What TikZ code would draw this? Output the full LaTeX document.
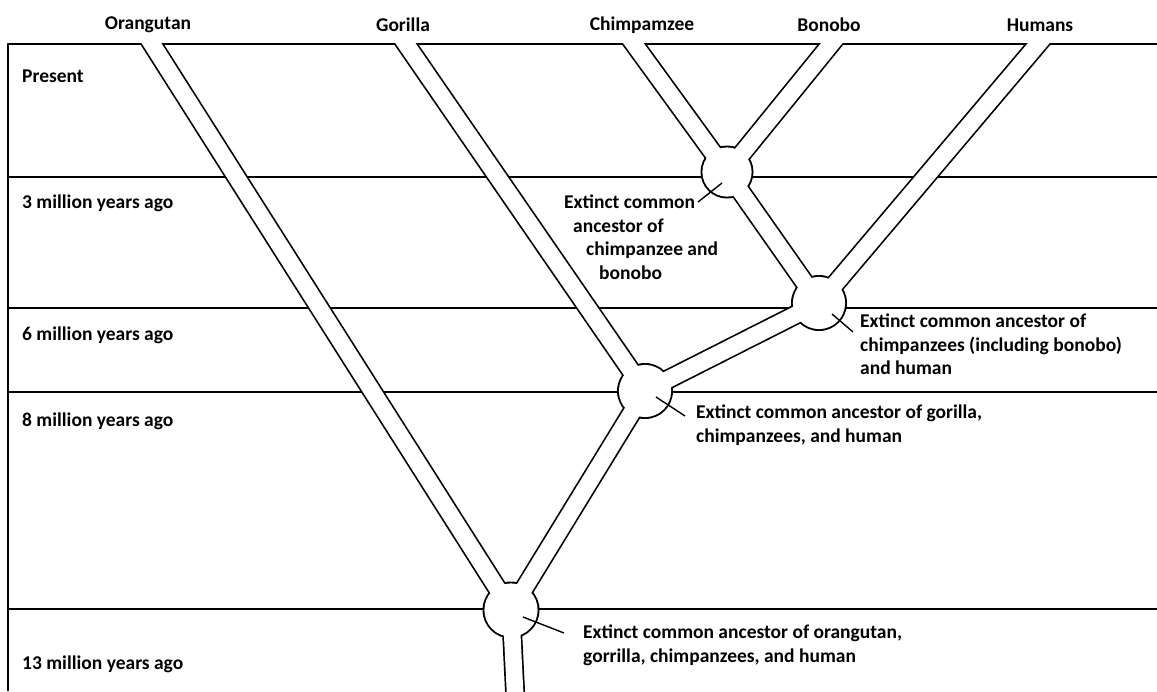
\documentclass[tikz,border=0pt]{standalone}
\usepackage{fontspec}
\setmainfont{Carlito}
\usetikzlibrary{calc}

\tikzset{
  casing/.style={line width=20pt,line cap=butt},
  core/.style={white,line width=16.6pt,line cap=butt},
  rule/.style={line width=1.6pt},
  era/.style={font=\fontsize{19.5}{23}\selectfont\bfseries,anchor=west,inner sep=0pt},
  species/.style={font=\fontsize{19.5}{23}\selectfont\bfseries,inner sep=0pt},
  note/.style={font=\fontsize{19.5}{23.5}\selectfont\bfseries,align=left,anchor=north west,inner sep=0pt},
  pointer/.style={line width=1.4pt}
}

\begin{document}
\begin{tikzpicture}[x=1pt,y=-1pt,line join=round]
        \useasboundingbox (0,0) rectangle (1157,691);

        % Marco y franjas de tiempo
        \draw[rule] (1157,44) -- (8,44) -- (8,691);
        \foreach \y in {177,308,392,609} {
            \draw[rule] (8,\y) -- (1157,\y);
        }

        % Ancestros y extremos de las ramas
        \coordinate (cb) at (727,172);
        \coordinate (ch) at (819,303);
        \coordinate (gor) at (645,391);
        \coordinate (root) at (511,610);
        \coordinate (orTop) at (152,44);
        \coordinate (goTop) at (406,44);
        \coordinate (chTop) at (634,44);
        \coordinate (boTop) at (831,44);
        \coordinate (huTop) at (1038,44);
        \coordinate (trunk) at (515,691);

        % Ramas: primero el contorno negro, luego el interior blanco
        \begin{scope}
            \clip (0,43) rectangle (1157,691);
            \foreach \a/\b in {orTop/root,goTop/gor,chTop/cb,boTop/cb,huTop/ch} {
                \draw[casing,shorten <=-15pt] (\a) -- (\b);
            }
            \foreach \a/\b in {cb/ch,ch/gor,gor/root} {
                \draw[casing] (\a) -- (\b);
            }
            \draw[casing,shorten >=-15pt] (root) -- (trunk);
            \foreach \n/\r in {cb/26.5,ch/28,gor/28,root/28.5} {
                \fill (\n) circle (\r);
            }
            \foreach \a/\b in {orTop/root,goTop/gor,chTop/cb,boTop/cb,huTop/ch} {
                \draw[core,shorten <=-15pt] (\a) -- (\b);
            }
            \foreach \a/\b in {cb/ch,ch/gor,gor/root} {
                \draw[core] (\a) -- (\b);
            }
            \draw[core,shorten >=-15pt] (root) -- (trunk);
            \foreach \n/\r in {cb/24.6,ch/26.1,gor/26.1,root/26.6} {
                \fill[white] (\n) circle (\r);
            }
        \end{scope}

        % Especies
        \node[species] (orang) at (148,25) {Orangutan};
        \node[species] (gorilla) at (403,25) {Gorilla};
        \node[species] (chimp) at (642,25) {Chimpamzee};
        \node[species] (bonobo) at (829,25) {Bonobo};
        \node[species] (human) at (1040,25) {Humans};

        % Escala temporal
        \node[era] (t0) at (22,76) {Present};
        \node[era] (t3) at (22,203) {3 million years ago};
        \node[era] (t6) at (22,335) {6 million years ago};
        \node[era] (t8) at (22,421) {8 million years ago};
        \node[era] (t13) at (22,664) {13 million years ago};

        % Notas de los ancestros
        \node[note] (cbnote) at (564,195)
            {Extinct common\\
             \hspace*{9pt}ancestor of\\
             \hspace*{22pt}chimpanzee and\\
             \hspace*{35pt}bonobo};
        \node[note] (chnote) at (860,314)
            {Extinct common ancestor of\\
             chimpanzees (including bonobo)\\
             and human};
        \node[note] (gornote) at (696,405)
            {Extinct common ancestor of gorilla,\\
             chimpanzees, and human};
        \node[note] (rootnote) at (583,625)
            {Extinct common ancestor of orangutan,\\
             gorrilla, chimpanzees, and human};

        % Indicadores
        \draw[pointer] ($(cb)+(-5,11)$) -- ($(cb)+(-29,30)$);
        \draw[pointer] ($(ch)+(13,11)$) -- ($(ch)+(34,29)$);
        \draw[pointer] ($(gor)+(11,6)$) -- ($(gor)+(40,25)$);
        \draw[pointer] ($(root)+(12,7)$) -- ($(root)+(53,23)$);
    \end{tikzpicture}
\end{document}
